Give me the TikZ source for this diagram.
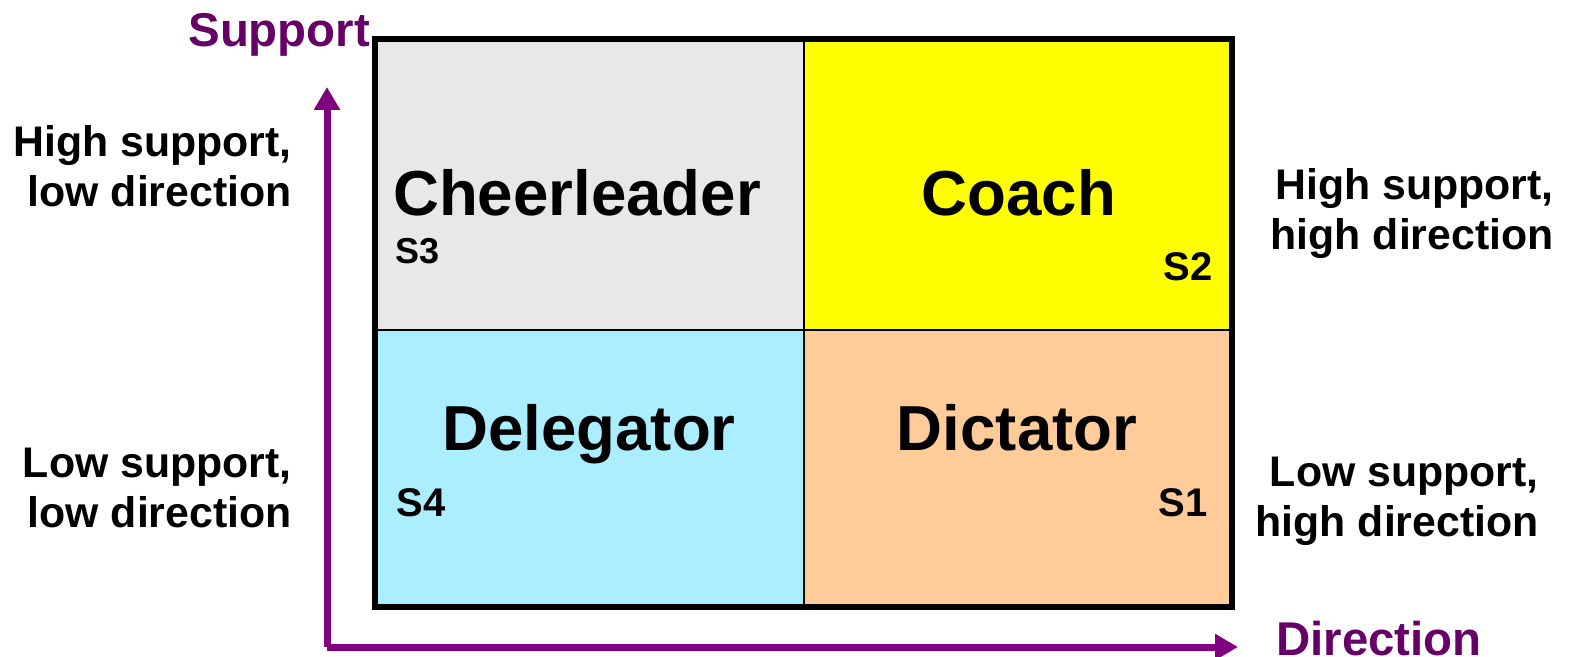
\documentclass[tikz,border=0pt]{standalone}
\usepackage{fontspec}
\setmainfont{Liberation Sans}
\usetikzlibrary{arrows.meta,positioning}

\definecolor{axispurple}{RGB}{128,0,128}
\definecolor{titlepurple}{RGB}{102,0,102}
\definecolor{cheergray}{RGB}{232,232,232}
\definecolor{coachyellow}{RGB}{255,255,0}
\definecolor{delegblue}{RGB}{170,238,255}
\definecolor{dictpeach}{RGB}{255,204,153}

\begin{document}
\begin{tikzpicture}[x=0.5pt, y=-0.5pt,
  big/.style={font=\fontsize{31.8}{38}\selectfont\bfseries, inner sep=0pt, anchor=base},
  tag/.style={font=\fontsize{20}{24}\selectfont\bfseries, inner sep=0pt},
  side/.style={font=\fontsize{21.4}{25}\selectfont\bfseries, align=right, inner sep=0pt, anchor=east},
  axislabel/.style={font=\fontsize{23.7}{28}\selectfont\bfseries, text=titlepurple, inner sep=0pt, anchor=base west},
  axis/.style={axispurple, line width=3.5pt, -{Triangle[length=11.5pt,width=12.5pt]}}]
\useasboundingbox (0,0) rectangle (1577,657);

% the four cells
\foreach \xa/\ya/\xb/\yb/\c in {375/39/804/330/cheergray, 804/39/1232/330/coachyellow,
    375/330/804/607/delegblue, 804/330/1232/607/dictpeach}
  \fill[\c] (\xa,\ya) rectangle (\xb,\yb);
\draw[line width=1.2pt] (804,39) -- (804,607) (375,330) -- (1232,330);
\draw[line width=3pt] (375,39) rectangle (1232,607);

% styles
\node[big] (cheer) at (577,216) {Cheerleader};
\node[big] (coach) at (1019,216) {Coach};
\node[big] (deleg) at (589,450) {Delegator};
\node[big] (dict) at (1017,450) {Dictator};
\node[tag, font=\fontsize{18}{21}\selectfont\bfseries, anchor=base west] (s3) at (395,264) {S3};
\node[tag, anchor=base east] (s2) at (1213,281) {S2};
\node[tag, anchor=base west] (s4) at (396,516) {S4};
\node[tag, anchor=base east] (s1) at (1208,516) {S1};

% axes
\coordinate (origin) at (327,647);
\coordinate (ytip) at (327,87);
\coordinate (xtip) at (1238,647);
\draw[axis] (origin) -- (ytip);
\draw[axis] (origin) -- (xtip);
\node[axislabel] (support) at (188,47) {Support};
\node[axislabel] (direction) at (1276,655) {Direction};

% quadrant descriptions
\node[side] (hsld) at (292,166) {High support,\\low direction};
\node[side] (lsld) at (292,488) {Low support,\\low direction};
\node[side] (hshd) at (1554,214) {High support,\\high direction};
\node[side] (lshd) at (1539,501) {Low support,\\high direction};
\end{tikzpicture}
\end{document}
